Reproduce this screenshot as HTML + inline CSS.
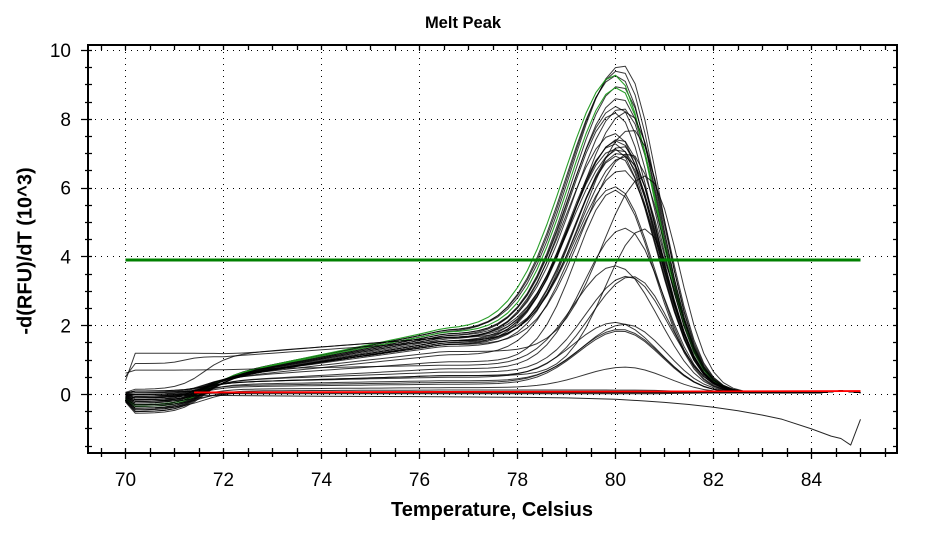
<!DOCTYPE html>
<html><head><meta charset="utf-8">
<style>
html,body{margin:0;padding:0;background:#fff;}
svg{display:block;}
text{font-family:"Liberation Sans",Arial,sans-serif;fill:#000;}
</style></head><body>
<svg id="s" width="925" height="536" viewBox="0 0 925 536" xmlns="http://www.w3.org/2000/svg">
<rect width="925" height="536" fill="#fff"/>
<g id="grid" stroke="#000" stroke-width="1" stroke-dasharray="1,5" fill="none"></g>
<g id="curves" fill="none" stroke-linejoin="round"></g>
<g id="over" fill="none"></g>
<g id="axes" stroke="#000" fill="none"></g>
<text x="463" y="28" font-size="16.5" font-weight="bold" text-anchor="middle">Melt Peak</text>
<g font-size="19" text-anchor="end">
<text x="71" y="401.5">0</text>
<text x="71" y="332.5">2</text>
<text x="71" y="263.5">4</text>
<text x="71" y="194.5">6</text>
<text x="71" y="126">8</text>
<text x="71" y="57">10</text>
</g>
<g font-size="19" text-anchor="middle">
<text x="125.5" y="486">70</text>
<text x="223.5" y="486">72</text>
<text x="321.5" y="486">74</text>
<text x="419.5" y="486">76</text>
<text x="517.5" y="486">78</text>
<text x="615.5" y="486">80</text>
<text x="713.5" y="486">82</text>
<text x="811.5" y="486">84</text>
</g>
<text x="492" y="516" font-size="20" font-weight="bold" text-anchor="middle">Temperature, Celsius</text>
<text transform="translate(31.5,251) rotate(-90)" font-size="20" font-weight="bold" text-anchor="middle">-d(RFU)/dT (10^3)</text>
</svg>
<script>
(function(){
var NS="http://www.w3.org/2000/svg";
function X(T){return 125.5+(T-70)*49;}
function Y(v){return 394.5-v*34.4;}
function el(parent,tag,attrs){var e=document.createElementNS(NS,tag);for(var k in attrs)e.setAttribute(k,attrs[k]);parent.appendChild(e);return e;}
var grid=document.getElementById('grid');
var d="";
for(var T=70;T<=84;T+=2){var x=Math.round(X(T)-0.5)+0.5;d+="M"+x+" 46V452";}
for(var v=0;v<=10;v+=2){var y=Math.round(Y(v)-0.5)+0.5;d+="M89 "+y+"H896";}
el(grid,'path',{d:d});

var ax=document.getElementById('axes');
el(ax,'rect',{x:88,y:45,width:809,height:408,'stroke-width':2});
var t="";
for(var i=0;i<=23;i++){var v=-1.5+i*0.5;var y=Math.round(Y(v)-0.5)+0.5;var major=(Math.abs(v%2)<1e-6);
 t+="M"+(major?81:85)+" "+y+"H92";t+="M893 "+y+"H897";}
for(var i=0;i<=32;i++){var T=69.5+i*0.5;var x=Math.round(X(T)-0.5)+0.5;var major=(Math.abs(T%2)<1e-6);
 t+="M"+x+" 448V"+(major?459:457);t+="M"+x+" 45V50";}
el(ax,'path',{d:t,'stroke-width':1.3});

function sig(x){return 1/(1+Math.exp(-x));}
function curve(p){
 var pts=[];
 for(var i=0;i<=75;i++){
  var T=70+i*0.2;
  var L=p.c*((1-p.k)+p.k*Math.min(Math.max((T-72)/4.5,0),1));
  L*=1/(1+Math.exp((T-81.35)/0.3));
  L+=0.05;
  var early=(p.e1!==undefined)?p.e1:p.b0;
  var start=(p.e0!==undefined)?p.e0:p.b0*0.4;
  var s=sig((T-(p.ts||71.6))/(p.tw||0.25));
  var y=early*(1-s)+L*s;
  if(i===0)y=start;
  var dd=T-p.Tm, sg=dd<0?p.sl:p.sr+0.07;
  y+=p.A*Math.exp(-dd*dd/(2*sg*sg));
  y+=(p.tb!==undefined?p.tb:0.06)*Math.exp(-Math.pow((T-84.6)/0.25,2));
  pts.push(X(T).toFixed(1)+","+Y(y).toFixed(1));
 }
 return pts.join(" ");
}
var P=[
 [7.75,80.15,1.05,0.62,-0.5,1.8,0.7],
 [7.6,80.1,1.05,0.63,-0.45,1.8,0.7],
 [7.5,80.05,1.05,0.65,-0.4,1.75,0.7],
 [7.25,80.1,1.0,0.65,-0.3,1.7,0.7],
 [6.9,80.1,1.0,0.65,-0.25,1.7,0.7],
 [6.7,80.05,1.0,0.65,-0.2,1.65,0.7],
 [6.65,80.15,1.0,0.62,-0.15,1.65,0.7],
 [6.55,80.0,0.95,0.65,-0.1,1.6,0.7],
 [6.0,80.0,1.0,0.65,-0.55,1.55,0.7],
 [5.9,80.1,1.0,0.63,-0.5,1.5,0.7],
 [5.85,80.05,0.95,0.65,-0.45,1.5,0.7],
 [5.8,80.0,0.95,0.66,-0.4,1.45,0.7],
 [5.75,80.15,0.95,0.62,-0.35,1.45,0.7],
 [5.7,80.0,0.95,0.66,-0.3,1.4,0.65],
 [5.6,80.1,0.95,0.64,-0.25,1.4,0.65],
 [5.55,80.05,0.9,0.65,-0.2,1.35,0.65],
 [6.2,80.35,1.0,0.6,-0.15,1.5,0.7],
 [5.6,80.3,0.95,0.6,-0.1,1.4,0.65],
 [6.6,80.25,1.0,0.62,-0.05,1.6,0.7],
 [5.2,80.65,0.9,0.55,0.0,1.2,0.6],
 [4.9,80.0,0.9,0.65,-0.1,1.1,0.6],
 [5.0,80.0,0.8,0.65,0.05,0.9,0.5],
 [4.1,80.2,0.85,0.65,-0.05,0.7,0.5],
 [4.3,80.6,0.8,0.55,0.1,0.5,0.4],
 [2.8,80.25,0.85,0.7,-0.2,0.6,0.4],
 [2.9,80.35,0.85,0.65,0.1,0.5,0.4],
 [1.6,80.0,0.85,0.7,0.0,0.45,0.3],
 [1.65,80.2,0.85,0.7,-0.1,0.35,0.3],
 [1.55,80.1,0.85,0.7,0.05,0.3,0.3],
 [1.55,80.1,0.85,0.7,-0.05,0.25,0.3],
 [5.3,80.2,0.95,0.63,0.15,1.6,0.3],
 [0,80,1,1,-0.2,0.0,0],
 [0,80,1,1,0.1,-0.03,0],
 [0,80,1,1,-0.4,0.02,0],
 [0,80,1,1,0.0,0.0,0],
 [0,80,1,1,-0.3,0.08,0.3],
 [0.6,80.2,0.85,0.7,-0.15,0.15,0.3]
];
var cg=document.getElementById('curves');
function add(p,col,w,op){el(cg,'polyline',{points:curve(p),stroke:col,'stroke-width':w,'stroke-opacity':op});}
P.forEach(function(a,i){
 add({A:a[0],Tm:a[1],sl:a[2],sr:a[3],b0:a[4],c:a[5],k:a[6]},'#000',1,0.78);
 if(i===8){
  add({A:7.4,Tm:80.0,sl:1.05,sr:0.65,b0:-0.35,c:1.85,k:0.72},'#1f9a1f',1.1,0.95);
  add({A:7.15,Tm:80.05,sl:1.0,sr:0.66,b0:-0.3,c:1.75,k:0.7},'#1f9a1f',1.1,0.95);
 }
});
add({A:5.5,Tm:80.1,sl:1.0,sr:0.64,e0:0.4,e1:1.2,c:1.6,k:0.3,ts:72.3,tw:0.4},'#000',1,0.78);
add({A:5.0,Tm:80.15,sl:0.95,sr:0.63,e0:0.52,e1:0.9,c:1.5,k:0.3,ts:71.2,tw:0.15},'#000',1,0.78);
add({A:2.9,Tm:80.0,sl:0.85,sr:0.7,e0:0.62,e1:0.71,c:0.8,k:0.15,ts:72,tw:0.3},'#000',1,0.78);
var dp=[[70,0],[70.2,-0.05],[71,-0.05],[71.6,-0.02],[72,-0.03],[74,-0.05],[76,-0.06],[78,-0.08],[79,-0.1],[80,-0.14],[80.6,-0.19],[81,-0.23],[81.5,-0.29],[82,-0.37],[82.5,-0.47],[83,-0.6],[83.4,-0.72],[84,-1.0],[84.4,-1.21],[84.6,-1.28],[84.8,-1.47],[85,-0.72]];
el(cg,'polyline',{points:dp.map(function(q){return X(q[0]).toFixed(1)+","+Y(q[1]).toFixed(1);}).join(" "),stroke:'#000','stroke-width':1,'stroke-opacity':0.85});
var ov=document.getElementById('over');
el(ov,'line',{x1:X(71.4),y1:Y(0.06),x2:X(85),y2:Y(0.1),stroke:'#ff0000','stroke-width':1.8});
el(ov,'line',{x1:X(70),y1:260,x2:X(85),y2:260,stroke:'#008000','stroke-width':3});
})();
</script>
</body></html>
